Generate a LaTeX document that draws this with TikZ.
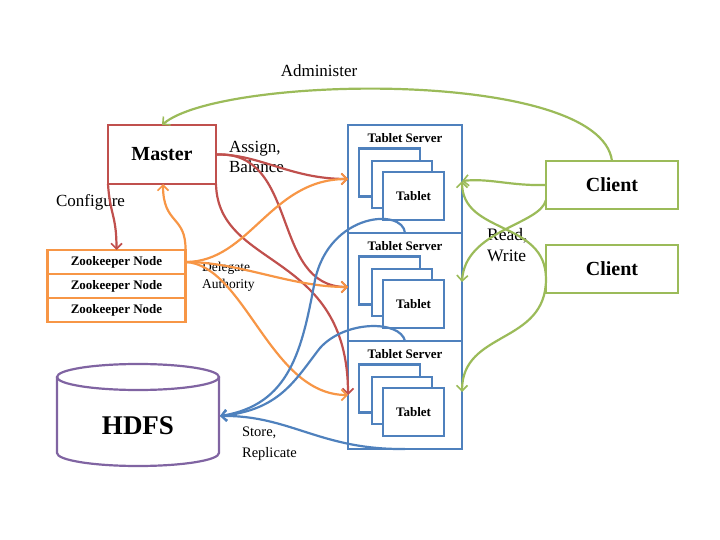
\documentclass[tikz,border=0pt]{standalone}
\usepackage{fontspec}
\setmainfont{Liberation Serif}
\usetikzlibrary{arrows.meta,calc}
\definecolor{cred}{HTML}{C0504D}
\definecolor{corange}{HTML}{F79646}
\definecolor{cblue}{HTML}{4F81BD}
\definecolor{cpurple}{HTML}{8064A2}
\definecolor{cgreen}{HTML}{9BBB59}
\begin{document}
\begin{tikzpicture}[x=1pt,y=-1pt,line width=2.2pt,
  box/.style={draw,inner sep=0pt,outer sep=0pt,fill=white},
  arr/.style={-{Straight Barb[length=5.5pt,width=11pt,line width=1.6pt]}},
  conn/.style={arr},
  lbl/.style={inner sep=0pt,align=left,anchor=west},
  bigb/.style={font=\bfseries\fontsize{20}{22}\selectfont},
  smb/.style={font=\bfseries\fontsize{13}{15}\selectfont},
  tab/.style={box,draw=cblue,minimum width=61pt,minimum height=48pt,smb},
  srv/.style={box,draw=cblue,minimum width=114pt,minimum height=108pt},
  zk/.style={box,draw=corange,minimum width=138pt,minimum height=24pt,smb},
  cli/.style={box,draw=cgreen,minimum width=132pt,minimum height=48pt,bigb}]
\useasboundingbox (0,0) rectangle (720,540);

% Master
\node[box,draw=cred,minimum width=108pt,minimum height=59pt,bigb] (master) at (162,154.5) {Master};

% Zookeeper
\node[zk] (zk1) at (116.5,262) {Zookeeper Node};
\node[zk] (zk2) at (116.5,286) {Zookeeper Node};
\node[zk] (zk3) at (116.5,310) {Zookeeper Node};

% HDFS cylinder
\draw[cpurple] (57,377) -- (57,453) arc[start angle=180,end angle=0,x radius=81,y radius=13] -- (219,377);
\draw[cpurple,fill=white] (138,377) ellipse[x radius=81,y radius=13];
\node[inner sep=0pt,font=\bfseries\fontsize{27}{29}\selectfont] (hdfs) at (138,426) {HDFS};
\coordinate (hdfsin) at (220,416);

% Tablet servers
\foreach \i/\dy in {1/0,2/108,3/216}{
  \node[srv] (ts\i) at (405,179+\dy) {};
  \node[inner sep=0pt,smb] (ts\i lbl) at (405,138+\dy) {Tablet Server};
  \node[tab] (t\i a) at (389.5,172.5+\dy) {};
  \node[tab,minimum width=60pt,minimum height=47pt] (t\i b) at (402,184.5+\dy) {};
  \node[tab] (t\i c) at (413.5,196+\dy) {Tablet};
}

% Clients
\node[cli] (c1) at (612,185) {Client};
\node[cli] (c2) at (612,269) {Client};

% Labels
\node[inner sep=0pt,font=\fontsize{17}{19}\selectfont] (ladm) at (319,71) {Administer};
\node[lbl,font=\fontsize{17}{20.5}\selectfont] (lasg) at (228,157) {Assign,\\Balance};
\node[lbl,font=\fontsize{17}{19}\selectfont] (lcfg) at (55,202) {Configure};
\node[lbl,font=\fontsize{13.5}{17}\selectfont] (ldel) at (201,277) {Delegate\\Authority};
\node[lbl,font=\fontsize{17.5}{21}\selectfont] (lrw) at (486,245.5) {Read,\\Write};
\node[lbl,font=\fontsize{14.5}{20.5}\selectfont] (lsto) at (241,443.5) {Store,\\Replicate};

% Green connectors
\coordinate (s1e) at ($(ts1.east)+(0,2)$);
\coordinate (s2e) at ($(ts2.east)+(0,-5)$);
\coordinate (s3e) at ($(ts3.east)+(0,-3)$);
\coordinate (c1b) at ($(c1.west)+(0,15)$);
\coordinate (c2w) at ($(c2.west)+(0,10)$);
\draw[conn,cgreen] (c1.north) .. controls (600,68) and (220,75) .. (master.north);
\draw[conn,cgreen] (c1.west) .. controls (510,186) and (490,178) .. (s1e);
\draw[conn,cgreen] (c1b) .. controls (540,225) and (465,230) .. (s2e);
\draw[conn,cgreen] (c2w) .. controls (546,220) and (462,235) .. (s1e);
\draw[conn,cgreen] (c2w) .. controls (546,345) and (462,330) .. (s3e);

% Red connectors
\draw[conn,cred] (master.east) .. controls (260,154) and (290,179) .. (ts1.west);
\draw[conn,cred] (master.east) .. controls (300,150) and (270,287) .. (ts2.west);
\draw[conn,cred] (master.south east) .. controls (218,270) and (348,250) .. (ts3.west);
\coordinate (zkin) at ($(zk1.north)$);
\draw[conn,cred] (master.south west) .. controls (110,215) and (116.5,215) .. (zkin);

% Orange connectors
\draw[conn,corange] (zk1.east) .. controls (250,262) and (270,179) .. (ts1.west);
\draw[conn,corange] (zk1.east) .. controls (240,262) and (290,287) .. (ts2.west);
\draw[conn,corange] (zk1.east) .. controls (245,265) and (270,395) .. (ts3.west);
\coordinate (msin) at ($(master.south)+(1,0)$);
\draw[conn,corange] (zk1.north east) .. controls (186,215) and (163,225) .. (msin);

% Blue connectors
\draw[conn,cblue] (ts1.south) .. controls (403,208) and (330,212) .. (315,280) .. controls (302,350) and (290,405) .. (hdfsin);
\draw[conn,cblue] (ts2.south) .. controls (400,320) and (345,320) .. (320,348) .. controls (295,380) and (280,410) .. (hdfsin);
\draw[conn,cblue] (ts3.south) .. controls (320,450) and (290,415) .. (hdfsin);
\end{tikzpicture}
\end{document}
